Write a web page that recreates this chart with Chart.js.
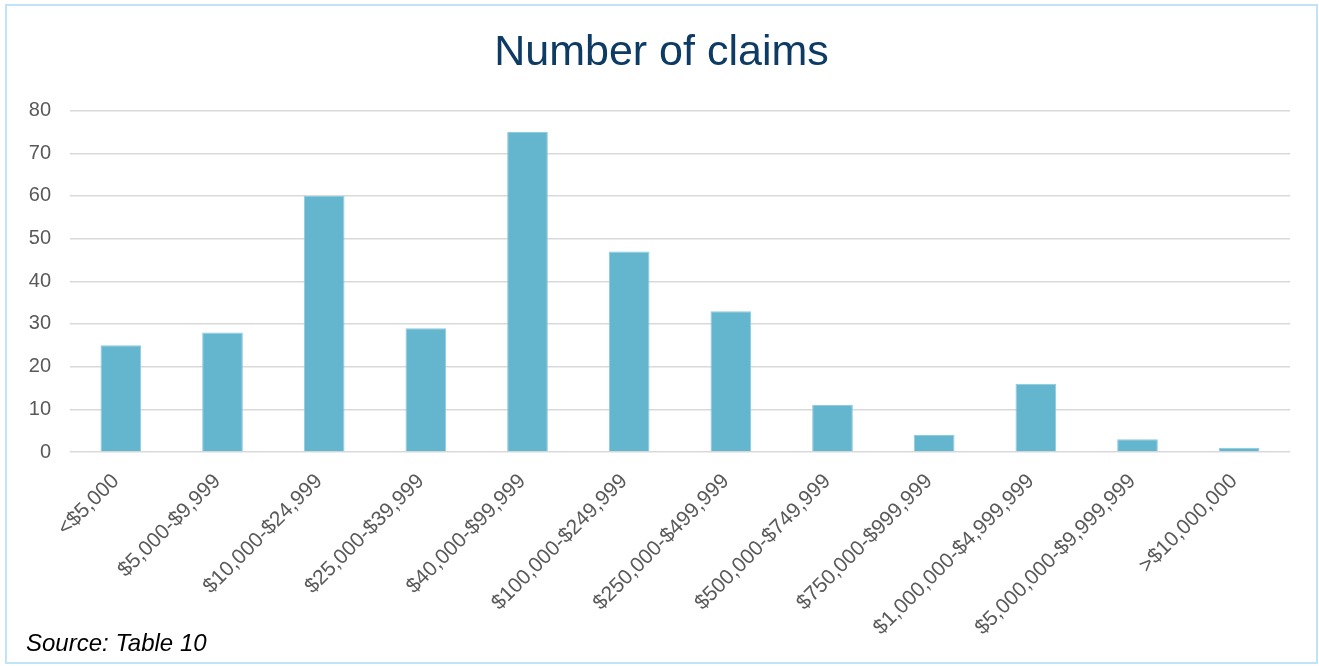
<!DOCTYPE html>
<html>
<head>
<meta charset="utf-8">
<script src="https://cdn.jsdelivr.net/npm/chart.js@4/dist/chart.umd.min.js"></script>
<style>
  body { margin: 0; background: #fff; font-family: "Liberation Sans", Arial, sans-serif; }
  #frame { position: absolute; left: 5px; top: 4px; width: 1313px; height: 660px; box-sizing: border-box; border: 2px solid #bfe3f8; }
  #wrap { position: absolute; left: 0; top: 0; width: 1309px; height: 656px; }
  #source { position: absolute; left: 19px; top: 623px; font-size: 24px; font-style: italic; color: #000; }
</style>
</head>
<body>
<div id="frame">
  <div id="wrap"><canvas id="claimsChart"></canvas></div>
  <div id="source">Source: Table 10</div>
</div>
<script>
let categories = ['<$5,000', '$5,000-$9,999', '$10,000-$24,999', '$25,000-$39,999', '$40,000-$99,999',
                  '$100,000-$249,999', '$250,000-$499,999', '$500,000-$749,999', '$750,000-$999,999',
                  '$1,000,000-$4,999,999', '$5,000,000-$9,999,999', '>$10,000,000'];
let claims = [25, 28, 60, 29, 75, 47, 33, 11, 4, 16, 3, 1];
let yTicks = [0, 10, 20, 30, 40, 50, 60, 70, 80];

let fontFamily = '"Liberation Sans", Arial, sans-serif';

let ctx = document.getElementById('claimsChart').getContext('2d');
new Chart(ctx, {
    type: 'bar',
    data: {
        labels: categories,
        datasets: [{
            label: 'Number of claims',
            data: claims,
            backgroundColor: '#64b5ce',
            borderColor: '#8ccbe0',
            borderWidth: 1,
            categoryPercentage: 0.8,
            barPercentage: 0.5
        }]
    },
    options: {
        responsive: true,
        maintainAspectRatio: false,
        animation: false,
        layout: { padding: 0 },
        plugins: {
            legend: { display: false },
            tooltip: { enabled: false },
            title: {
                display: true,
                text: 'Number of claims',
                color: '#0e3b64',
                font: { family: fontFamily, size: 43, weight: 'normal' },
                padding: { top: 21, bottom: 32 }
            }
        },
        scales: {
            x: {
                grid: { display: false },
                border: { display: false },
                ticks: { color: '#595959', font: { family: fontFamily, size: 21 }, minRotation: 45, maxRotation: 45, padding: 9, labelOffset: -5 },
                afterFit: scale => { scale.height = 210; }
            },
            y: {
                min: 0,
                max: 80,
                afterBuildTicks: scale => { scale.ticks = yTicks.map(v => ({ value: v })); },
                grid: { color: '#d9d9d9', lineWidth: 1.5, drawTicks: false },
                border: { display: false },
                ticks: { color: '#595959', font: { family: fontFamily, size: 20 }, padding: 19 },
                afterFit: scale => { scale.width = 63; }
            },
            // empty right-hand axis only keeps the gap after the plot, so the title stays centred on the page
            yRight: {
                position: 'right',
                grid: { display: false },
                border: { display: false },
                ticks: { display: false },
                afterFit: scale => { scale.width = 26; }
            }
        }
    }
});
</script>
</body>
</html>
